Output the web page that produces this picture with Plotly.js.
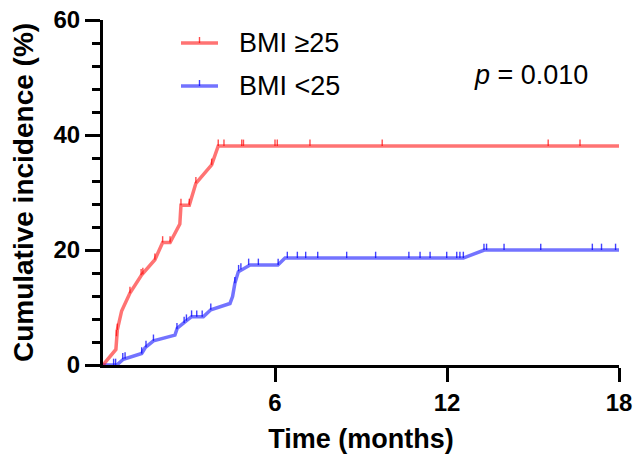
<!DOCTYPE html>
<html>
<head>
<meta charset="utf-8">
<script src="https://cdn.plot.ly/plotly-3.0.1.min.js"></script>
<style>html,body{margin:0;padding:0;background:#fff}#chart{width:635px;height:455px}</style>
</head>
<body>
<div id="chart"></div>
<script>
// ---- Data ----
const seriesNames = ["BMI \u226525", "BMI <25"];

// BMI >=25 curve (months, cumulative incidence %)
const highTime = [0, 0.45, 0.5, 0.65, 0.94, 1.35, 1.81, 2.08, 2.34, 2.68, 2.72, 3.01, 3.24, 3.79, 4.02, 18];
const highInc  = [0, 2.7, 6.1, 9.4, 12.5, 15.7, 18.3, 21.3, 21.3, 24.5, 27.8, 27.8, 31.6, 34.8, 38.1, 38.1];
// BMI >=25 censored observations
const highCensTime = [0.47, 0.5, 0.94, 1.33, 1.39, 1.81, 2.08, 2.34, 2.72, 3.01, 3.24, 3.79, 4.02, 4.22, 4.84, 4.9, 6.0, 6.08, 7.22, 9.74, 15.53, 16.64];
const highCensInc  = [5.0, 6.1, 12.5, 15.6, 15.8, 18.3, 21.3, 21.3, 27.8, 27.8, 31.6, 34.8, 38.1, 38.1, 38.1, 38.1, 38.1, 38.1, 38.1, 38.1, 38.1, 38.1];

// BMI <25 curve
const lowTime = [0, 0.48, 0.71, 1.35, 1.47, 1.76, 2.51, 2.59, 2.86, 3.09, 3.5, 3.76, 4.43, 4.52, 4.6, 4.72, 5.13, 6.1, 6.35, 12.57, 13.3, 18];
const lowInc  = [0, 0, 1.0, 2.0, 3.0, 4.2, 5.2, 6.4, 7.5, 8.4, 8.4, 9.6, 10.7, 11.9, 14.2, 16.2, 17.4, 17.4, 18.6, 18.6, 20.0, 20.0];
// BMI <25 censored observations
const lowCensTime = [0.37, 0.44, 0.69, 0.77, 1.35, 1.5, 1.76, 2.58, 2.83, 2.91, 3.09, 3.27, 3.46, 3.76, 4.6, 4.73, 4.81, 5.08, 5.42, 6.11,
  6.43, 6.78, 7.07, 7.49, 8.5, 9.51, 10.67, 11.06, 11.41, 11.99, 12.34, 12.45, 12.57,
  13.29, 13.38, 13.99, 15.27, 17.07, 17.39, 17.88];
const lowCensInc  = [0, 0, 1.0, 1.1, 2.0, 3.1, 4.2, 6.2, 7.3, 7.7, 8.4, 8.4, 8.4, 9.6, 14.2, 16.3, 16.6, 17.4, 17.4, 17.4,
  18.6, 18.6, 18.6, 18.6, 18.6, 18.6, 18.6, 18.6, 18.6, 18.6, 18.6, 18.6, 18.6,
  20.0, 20.0, 20.0, 20.0, 20.0, 20.0, 20.0];

const yTickVals = [0, 20, 40, 60];
const xTickVals = [6, 12, 18];
const pText = "<i>p</i> = 0.010";

// ---- Styles ----
const redLine = "rgba(255,0,0,0.55)";
const redTick = "rgba(255,0,0,0.7)";
const blueLine = "rgba(0,0,255,0.55)";
const blueTick = "rgba(0,0,255,0.75)";
const FONT = "Liberation Sans, Arial, Helvetica, sans-serif";

function curve(x, y, color, name) {
  return {x: x, y: y, type: "scatter", mode: "lines", name: name,
    line: {color: color, width: 3.5}, showlegend: false, hoverinfo: "x+y"};
}
function censor(x, y, color, name) {
  return {x: x, y: y, type: "scatter", mode: "markers", name: name + " censored",
    marker: {size: 1, opacity: 0}, showlegend: false, cliponaxis: false,
    error_y: {type: "constant", symmetric: false, value: 1.1, valueminus: 0,
      width: 0, thickness: 1.4, color: color}};
}

const data = [
  curve(lowTime, lowInc, blueLine, seriesNames[1]),
  censor(lowCensTime, lowCensInc, blueTick, seriesNames[1]),
  curve(highTime, highInc, redLine, seriesNames[0]),
  censor(highCensTime, highCensInc, redTick, seriesNames[0])
];

// legend drawn manually (paper coords from pixel positions)
const L = 103, R = 619, T = 20, B = 365;
const px = v => (v - L) / (R - L);
const py = v => (B - v) / (B - T);
const legendRows = [
  {y: 43, line: redLine, tick: redTick, label: seriesNames[0]},
  {y: 86, line: blueLine, tick: blueTick, label: seriesNames[1]}
];
const shapes = [], annotations = [];
legendRows.forEach(r => {
  shapes.push({type: "line", xref: "paper", yref: "paper", x0: px(181), x1: px(218), y0: py(r.y), y1: py(r.y),
    line: {color: r.line, width: 3.5}});
  shapes.push({type: "line", xref: "paper", yref: "paper", x0: px(199.5), x1: px(199.5), y0: py(r.y), y1: py(r.y - 6),
    line: {color: r.tick, width: 1.4}});
  annotations.push({xref: "paper", yref: "paper", x: px(237), y: py(r.y), xanchor: "left", yanchor: "middle",
    text: r.label, showarrow: false, font: {family: FONT, size: 27, color: "#000"}});
});
annotations.push({xref: "paper", yref: "paper", x: px(531), y: py(75), xanchor: "center", yanchor: "middle",
  text: pText, showarrow: false, font: {family: FONT, size: 27, color: "#000"}});

const layout = {
  width: 635, height: 455,
  margin: {l: L, r: 635 - R, t: T, b: 455 - B, pad: 0},
  paper_bgcolor: "#fff", plot_bgcolor: "#fff",
  showlegend: false,
  font: {family: FONT, color: "#000"},
  xaxis: {
    range: [0, 18], tickmode: "array", tickvals: xTickVals, ticktext: xTickVals.map(String),
    ticks: "outside", ticklen: 14, tickwidth: 3, tickcolor: "#000",
    showline: true, linewidth: 3, linecolor: "#000", showgrid: false, zeroline: false,
    tickfont: {family: FONT, size: 24, weight: "bold", color: "#000"},
    title: {text: "Time (months)", font: {family: FONT, size: 27, weight: "bold", color: "#000"}, standoff: 15},
    automargin: false, fixedrange: true
  },
  yaxis: {
    range: [0, 60], tickmode: "array", tickvals: yTickVals, ticktext: yTickVals.map(String),
    ticks: "outside", ticklen: 15, tickwidth: 3, tickcolor: "#000",
    minor: {tickmode: "linear", tick0: 0, dtick: 4, ticks: "outside", ticklen: 8, tickwidth: 3, tickcolor: "#000", showgrid: false},
    showline: true, linewidth: 3, linecolor: "#000", showgrid: false, zeroline: false,
    tickfont: {family: FONT, size: 24, weight: "bold", color: "#000"},
    title: {text: "Cumulative incidence (%)", font: {family: FONT, size: 28, weight: "bold", color: "#000"}, standoff: 12},
    automargin: false, fixedrange: true
  },
  shapes: shapes,
  annotations: annotations
};

Plotly.newPlot("chart", data, layout, {displayModeBar: false, staticPlot: true});
</script>
</body>
</html>
